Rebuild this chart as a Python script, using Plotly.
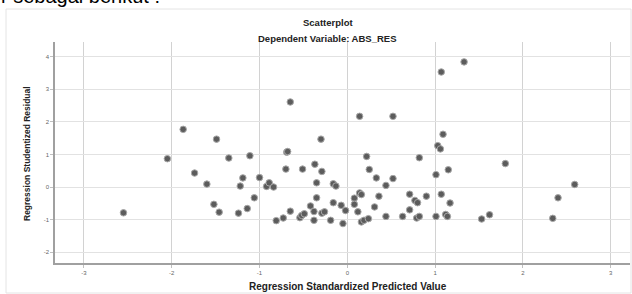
import plotly.graph_objects as go

# Regression Standardized Predicted Value
pred = [-2.55, -2.05, -1.87, -1.74, -1.60, -1.49, -1.52, -1.46, -1.35, -1.19,
        -1.22, -1.24, -1.14, -1.11, -1.06, -1.00, -0.92, -0.89, -0.84, -0.81,
        -0.73, -0.70, -0.69, -0.68, -0.65, -0.65, -0.54, -0.52, -0.49, -0.51,
        -0.42, -0.38, -0.38, -0.37, -0.35, -0.35, -0.30, -0.29, -0.29, -0.26,
        -0.19, -0.16, -0.16, -0.13, -0.07, -0.05, -0.02,
        0.08, 0.08, 0.12, 0.14, 0.14, 0.16, 0.16, 0.19, 0.22, 0.24,
        0.25, 0.31, 0.33, 0.36, 0.44, 0.44, 0.52, 0.52, 0.63, 0.71,
        0.71, 0.77, 0.80, 0.79, 0.82, 0.82, 0.90, 1.01, 1.01, 1.03,
        1.06, 1.07, 1.07, 1.09, 1.12, 1.14, 1.15, 1.17, 1.33, 1.53,
        1.62, 1.80, 2.34, 2.40, 2.59]

# Regression Studentized Residual
resid = [-0.79, 0.87, 1.77, 0.43, 0.09, 1.47, -0.53, -0.77, 0.89, 0.28,
         0.03, -0.80, -0.66, 0.96, -0.33, 0.29, 0.02, 0.13, 0.00, -1.03,
         -0.95, 0.55, 1.07, 1.09, 2.61, -0.74, -0.94, -0.87, -0.82, 0.55,
         -0.58, -1.02, -0.75, 0.70, 0.13, -0.33, 1.47, 0.48, -0.80, -0.76,
         -1.02, -0.48, 0.10, 0.03, -0.56, -1.12, -0.72,
         -0.34, -0.53, -0.76, 2.17, -0.18, -0.23, -1.07, -1.02, 0.94, -0.97,
         0.54, -0.61, 0.28, -0.28, 0.05, -0.90, 2.17, 0.26, -0.90, -0.22,
         -0.70, -0.41, -0.48, -0.95, -0.90, 0.90, -0.28, 0.38, -0.90, 1.27,
         1.17, 3.53, -0.22, 1.62, -0.84, -0.90, 0.53, -0.49, 3.84, -0.98,
         -0.85, 0.72, -0.96, -0.33, 0.08]

x_ticks = [-3, -2, -1, 0, 1, 2, 3]
y_ticks = [-2, -1, 0, 1, 2, 3, 4]

chart_title = "Scatterplot"
chart_subtitle = "Dependent Variable: ABS_RES"
x_title = "Regression Standardized Predicted Value"
y_title = "Regression Studentized Residual"
doc_text = "r sebagai berikut :"

W, H = 632, 294
ML, MR, MT, MB = 55, 2, 42, 31
PW, PH = W - ML - MR, H - MT - MB


def px(xp):
    return (xp - ML) / PW


def py(yp):
    return (H - MB - yp) / PH


fig = go.Figure()
fig.add_trace(go.Scatter(
    x=pred, y=resid, mode="markers",
    marker=dict(size=6.5, color="#5c5c5c", line=dict(color="#a8a8a8", width=1)),
    showlegend=False, cliponaxis=False,
))

axis_font = dict(family="Arial, Liberation Sans, sans-serif", size=6, color="#666")
fig.update_layout(
    width=W, height=H,
    margin=dict(l=ML, r=MR, t=MT, b=MB),
    paper_bgcolor="white", plot_bgcolor="white",
    font=dict(family="Arial, Liberation Sans, sans-serif", color="#222"),
    xaxis=dict(
        range=[-3.33, 3.22], tickvals=x_ticks, ticktext=[str(v) for v in x_ticks],
        showgrid=True, gridcolor="#d2d2d2", gridwidth=1,
        zeroline=False, showline=True, linecolor="#a0a0a0", linewidth=1.5,
        ticks="outside", ticklen=3, tickcolor="#c0c0c0", tickfont=axis_font,
    ),
    yaxis=dict(
        range=[-2.33, 4.45], tickvals=y_ticks, ticktext=[str(v) for v in y_ticks],
        showgrid=True, gridcolor="#e2e2e2", gridwidth=1,
        zeroline=False, showline=True, linecolor="#a0a0a0", linewidth=1.5,
        ticks="outside", ticklen=3, tickcolor="#c0c0c0", tickfont=axis_font,
    ),
    annotations=[
        dict(text=chart_title, xref="paper", yref="paper", x=px(327.5), y=py(22.5),
             xanchor="center", yanchor="middle", showarrow=False,
             font=dict(size=9.5, color="#222", weight="bold")),
        dict(text=chart_subtitle, xref="paper", yref="paper", x=px(327.5), y=py(38),
             xanchor="center", yanchor="middle", showarrow=False,
             font=dict(size=9.5, color="#222", weight="bold")),
        dict(text=x_title, xref="paper", yref="paper", x=px(348), y=py(286),
             xanchor="center", yanchor="middle", showarrow=False,
             font=dict(size=10, color="#222", weight="bold")),
        dict(text=y_title, xref="paper", yref="paper", x=px(27), y=py(154),
             xanchor="center", yanchor="middle", showarrow=False, textangle=-90,
             font=dict(size=8.5, color="#222", weight="bold")),
        dict(text=doc_text, xref="paper", yref="paper", x=px(-1), y=py(9),
             xanchor="left", yanchor="bottom", showarrow=False,
             font=dict(size=20, color="#000")),
    ],
    shapes=[
        dict(type="rect", xref="paper", yref="paper",
             x0=px(6), x1=px(631), y0=py(293), y1=py(9),
             line=dict(color="#e4e4e4", width=1), layer="below"),
    ],
)

fig.write_html(
    "out.html",
    config={"displayModeBar": False},
    post_script="document.body.style.margin='0px';document.body.style.overflow='hidden';",
)
